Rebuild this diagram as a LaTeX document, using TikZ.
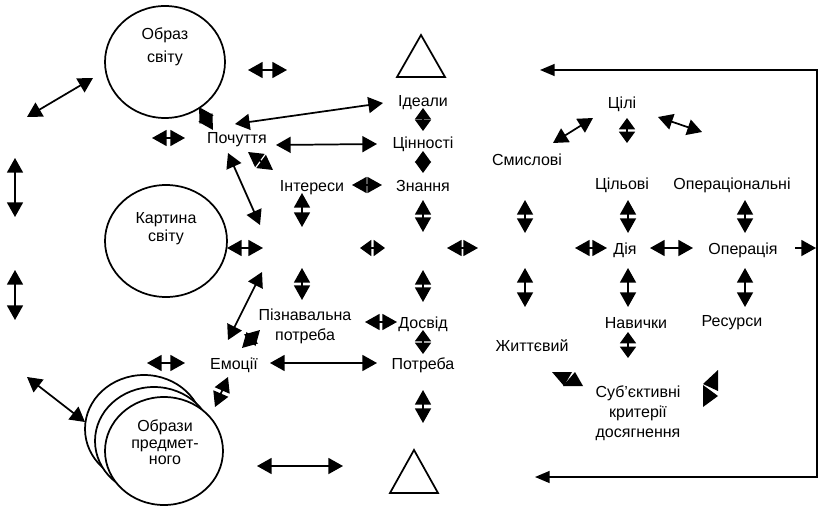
\documentclass[tikz,border=0pt]{standalone}
\usepackage{fontspec}
\setmainfont{Liberation Sans}
\usetikzlibrary{arrows.meta}
\begin{document}
\begin{tikzpicture}[x=0.75pt,y=-0.75pt,
 lab/.style={font=\fontsize{12}{15}\selectfont, inner sep=0pt, anchor=base},
 mlab/.style={font=\fontsize{12}{15}\selectfont, inner sep=0pt, align=center},
 dar/.style={line width=1.3pt, {Triangle[length=11pt,width=12pt]}-{Triangle[length=11pt,width=12pt]}},
 dds/.style={line width=1.3pt, {Triangle[length=8.5pt,width=12pt]}-{Triangle[length=8.5pt,width=12pt]}},
 sar/.style={line width=1.3pt, -{Triangle[length=11pt,width=12pt]}},
 circ/.style={draw, line width=1.3pt, fill=white},
 tri/.style={draw, line width=1.3pt},
 tk/.style={fill=black}
]
\useasboundingbox (0,0) rectangle (820,506);

% circles
\draw[circ] (165,62) ellipse [x radius=60, y radius=56];
\node[lab] (obraz1) at (165,40) {Образ};
\node[lab] (obraz2) at (165,63) {світу};
\draw[circ] (166,241) ellipse [x radius=61, y radius=56];
\node[lab] (kart1) at (166,223) {Картина};
\node[lab] (kart2) at (166,241) {світу};
\draw[circ] (144,429) ellipse [x radius=59, y radius=54];
\draw[circ] (154,441) ellipse [x radius=59, y radius=54];
\draw[circ] (164,451) ellipse [x radius=59, y radius=54];
\node[lab] (obr1) at (165,431) {Образи};
\node[lab] (obr2) at (165,448) {предмет-};
\node[lab] (obr3) at (165,464) {ного};

% triangles
\draw[tri] (421,35) -- (445,77) -- (397,77) -- cycle;
\draw[tri] (414,450) -- (438,493) -- (390,493) -- cycle;

% labels
\node[lab] (ideal) at (423,107) {Ідеали};
\node[lab] (cinn) at (423,149) {Цінності};
\node[lab] (znan) at (423,191) {Знання};
\node[lab] (inter) at (312,191) {Інтереси};
\node[lab] (poch) at (237,144) {Почуття};
\node[mlab] (pizn) at (305,326) {Пізнавальна\\потреба};
\node[lab] (dosv) at (423,328) {Досвід};
\node[lab] (potr) at (423,369) {Потреба};
\node[lab] (emoc) at (234,369) {Емоції};
\node[lab] (smysl) at (527,166) {Смислові};
\node[lab] (cili) at (622,109) {Цілі};
\node[lab] (cilovi) at (622,189) {Цільові};
\node[lab] (operac) at (732,189) {Операціональні};
\node[lab] (diya) at (625,254) {Дія};
\node[lab] (operaciya) at (743,254) {Операція};
\node[lab] (navych) at (636,328) {Навички};
\node[lab] (resursy) at (732,326) {Ресурси};
\node[lab] (zhyt) at (532,351) {Життєвий};
\node[mlab] (sub) at (638,413) {Суб’єктивні\\критерії\\досягнення};

% frame on the right
\draw[line width=1.1pt, {Triangle[length=11pt,width=9pt]}-{Triangle[length=11pt,width=9pt]}] (535,477) -- (817,477) -- (817,70) -- (540,70);

% arrows
\draw[dar] (248,70) -- (287,70);
\draw[dar] (27,117) -- (93,78);
\draw[dar] (199,107) -- (213,130);
\draw[dar] (235,124) -- (383,103);
\draw[dar] (276,145) -- (377,144);
\draw[dar] (152,138) -- (185,138);
\draw[dds] (423,108) -- (423,131);
\draw[dds] (423,151) -- (423,173);
\draw[dar] (15,158) -- (15,217);
\draw[dar] (15,270) -- (15,320);
\draw[dar] (228,153) -- (260,225);
\draw[dar] (248,152) -- (273,170);
\draw[dar] (227,248) -- (263,248);
\draw[dar] (228,340) -- (262,272);
\draw[dar] (242,348) -- (260,330);
\draw[dar] (352,185) -- (382,185);
\draw[dar] (302,193) -- (302,227);
\draw[dar] (423,200) -- (423,232);
\draw[dds] (360,248) -- (385,248);
\draw[dar] (447,248) -- (478,248);
\draw[dar] (525,200) -- (525,233);
\draw[dar] (302,268) -- (302,300);
\draw[dar] (423,270) -- (423,302);
\draw[dar] (525,268) -- (525,307);
\draw[dar] (365,322) -- (397,322);
\draw[dds] (423,330) -- (423,354);
\draw[dar] (423,390) -- (423,423);
\draw[dar] (270,363) -- (377,363);
\draw[dar] (147,363) -- (185,363);
\draw[dar] (27,377) -- (85,422);
\draw[dar] (215,407) -- (228,377);
\draw[dar] (257,466) -- (343,466);
\draw[dar] (553,143) -- (593,118);
\draw[dds] (627,118) -- (627,143);
\draw[dar] (658,117) -- (702,132);
\draw[dar] (628,200) -- (628,233);
\draw[dar] (745,200) -- (745,233);
\draw[dar] (575,248) -- (607,248);
\draw[dar] (650,248) -- (693,248);
\draw[sar] (795,248) -- (816,248);
\draw[dar] (628,268) -- (628,307);
\draw[dar] (745,268) -- (745,307);
\draw[dds] (628,332) -- (628,358);

% broken arrow pieces
\fill[tk] (552,372) -- (572,372) -- (564,386) -- cycle;
\fill[tk] (563,386) -- (583,386) -- (575,372) -- cycle;
\fill[tk] (718,370) -- (718,391) -- (703,384) -- cycle;
\fill[tk] (703,385) -- (703,407) -- (718,396) -- cycle;
\end{tikzpicture}
\end{document}
